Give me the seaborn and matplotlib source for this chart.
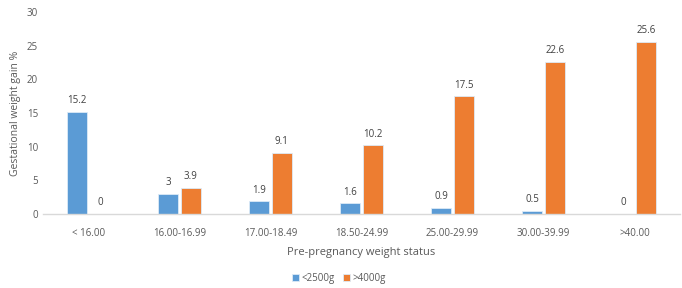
import matplotlib
matplotlib.use("Agg")
import matplotlib.pyplot as plt
import seaborn as sns
import pandas as pd

categories = ["< 16.00", "16.00-16.99", "17.00-18.49", "18.50-24.99",
              "25.00-29.99", "30.00-39.99", ">40.00"]
low_bw = [15.2, 3, 1.9, 1.6, 0.9, 0.5, 0]
high_bw = [0, 3.9, 9.1, 10.2, 17.5, 22.6, 25.6]
series_names = ["<2500g", ">4000g"]

df = pd.DataFrame({
    "cat": categories * 2,
    "val": low_bw + high_bw,
    "series": [series_names[0]] * len(categories) + [series_names[1]] * len(categories),
})

sns.set_style("white")
plt.rcParams["font.family"] = ["Open Sans", "DejaVu Sans"]
gray = "#595959"

fig = plt.figure(figsize=(6.82, 2.88), dpi=100)
ax = fig.add_axes([0.063, 0.257, 0.934, 0.701])

sns.barplot(data=df, x="cat", y="val", hue="series", order=categories,
            hue_order=series_names, palette=["#5B9BD5", "#ED7D31"],
            width=0.5, gap=0.13, ax=ax, legend=True, saturation=1,
            edgecolor="#DDEBF7", linewidth=0.6)

for cont in ax.containers:
    labels = [f"{v:g}" for v in cont.datavalues]
    ax.bar_label(cont, labels=labels, padding=4, fontsize=7, color="#404040")

ax.set_ylim(0, 30)
ax.set_yticks(range(0, 31, 5))
ax.set_xlim(-0.5, len(categories) - 0.5)
ax.tick_params(axis="both", labelsize=7, colors=gray, length=0)
ax.tick_params(axis="x", pad=10)
ax.set_ylabel("Gestational weight gain %", fontsize=7.5, color=gray)
ax.set_xlabel("Pre-pregnancy weight status", fontsize=8, color=gray, labelpad=6)
for s in ["top", "right", "left"]:
    ax.spines[s].set_visible(False)
ax.spines["bottom"].set_color("#D9D9D9")
ax.spines["bottom"].set_linewidth(1)

ax.legend(loc="upper center", bbox_to_anchor=(0.465, -0.26), ncol=2, frameon=False,
          fontsize=7, handlelength=0.7, handleheight=0.7, handletextpad=0.3,
          columnspacing=0.8, labelcolor=gray, borderpad=0.2)

fig.savefig("out.png", dpi=100)
